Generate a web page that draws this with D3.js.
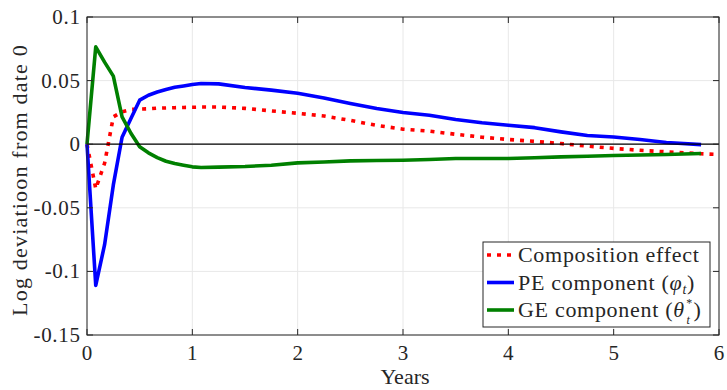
<!DOCTYPE html>
<html>
<head>
<meta charset="utf-8">
<script src="https://cdn.jsdelivr.net/npm/d3@7"></script>
<style>
  html, body { margin: 0; padding: 0; background: #fff; }
  svg { display: block; }
</style>
</head>
<body>
<svg id="chart" width="727" height="390"></svg>
<script>
// Time in years (monthly early on, quarterly afterwards)
const years = [0, 0.083, 0.167, 0.25, 0.333, 0.417, 0.5, 0.583, 0.667, 0.75, 0.833, 0.917,
  1.0, 1.083, 1.25, 1.5, 1.75, 2.0, 2.25, 2.5, 2.75, 3.0, 3.25, 3.5, 3.75, 4.0,
  4.25, 4.5, 4.75, 5.0, 5.25, 5.5, 5.83];
const yearsComposition = years.concat([6.0]);

// Partial-equilibrium component (phi_t)
const peComponent = [0, -0.111, -0.079, -0.032, 0.0055, 0.0202, 0.0346, 0.0385, 0.041, 0.043,
  0.0447, 0.0458, 0.0469, 0.0477, 0.0474, 0.0446, 0.0425, 0.040, 0.0364, 0.032, 0.028,
  0.0249, 0.0228, 0.0194, 0.0168, 0.0149, 0.013, 0.0097, 0.0068, 0.0057, 0.0037, 0.0013, -0.0003];

// General-equilibrium component (theta*_t)
const geComponent = [0, 0.0765, 0.0645, 0.0535, 0.0215, 0.0086, -0.002, -0.0068, -0.0105, -0.0134,
  -0.0152, -0.0165, -0.0178, -0.0183, -0.018, -0.0175, -0.0165, -0.0147, -0.014, -0.0131,
  -0.0128, -0.0126, -0.012, -0.0113, -0.0113, -0.0112, -0.0107, -0.010, -0.0095, -0.0089,
  -0.0085, -0.0081, -0.0073];

// Composition effect
const compositionEffect = [0, -0.035, -0.015, 0.0215, 0.0255, 0.0273, 0.0276, 0.0278, 0.0283,
  0.0285, 0.0287, 0.0289, 0.029, 0.0292, 0.0292, 0.0282, 0.0262, 0.0243, 0.0222, 0.0187,
  0.0148, 0.0118, 0.0103, 0.0078, 0.0055, 0.0037, 0.0022, 0.0005, -0.0015, -0.0033, -0.0048,
  -0.006, -0.0075, -0.0081];

const xTicks = [0, 1, 2, 3, 4, 5, 6];
const yTicks = [-0.15, -0.1, -0.05, 0, 0.05, 0.1];
const yTickLabels = ["-0.15", "-0.1", "-0.05", "0", "0.05", "0.1"];

const FONT = "'Liberation Serif', 'DejaVu Serif', serif";
const INK = "#262626";

const svg = d3.select("#chart");
const plotLeft = 87, plotRight = 719, plotTop = 17, plotBottom = 335;

const x = d3.scaleLinear().domain([0, 6]).range([plotLeft, plotRight]);
const y = d3.scaleLinear().domain([-0.15, 0.1]).range([plotBottom, plotTop]);

// grid
const grid = svg.append("g");
grid.selectAll(".gx").data(xTicks).join("line")
  .attr("x1", d => x(d)).attr("x2", d => x(d))
  .attr("y1", plotTop).attr("y2", plotBottom)
  .attr("stroke", "#e8e8e8").attr("stroke-width", 1);
grid.selectAll(".gy").data(yTicks).join("line")
  .attr("y1", d => y(d)).attr("y2", d => y(d))
  .attr("x1", plotLeft).attr("x2", plotRight)
  .attr("stroke", "#e8e8e8").attr("stroke-width", 1);

// series
const series = [
  { name: "comp", xs: yearsComposition, ys: compositionEffect, color: "#ff0000", dash: "4,6" },
  { name: "pe", xs: years, ys: peComponent, color: "#0000ff", dash: null },
  { name: "ge", xs: years, ys: geComponent, color: "#008000", dash: null }
];
const line = d3.line().x(d => x(d[0])).y(d => y(d[1]));
series.forEach(s => {
  const pts = s.xs.map((t, i) => [t, s.ys[i]]);
  svg.append("path").datum(pts)
    .attr("d", line)
    .attr("fill", "none")
    .attr("stroke", s.color)
    .attr("stroke-width", 3.6)
    .attr("stroke-linejoin", "round")
    .attr("stroke-dasharray", s.dash);
});

// zero reference line
svg.append("line")
  .attr("x1", x(0)).attr("x2", x(6))
  .attr("y1", y(0)).attr("y2", y(0))
  .attr("stroke", "#000").attr("stroke-width", 1.2);

// axes: box with inward ticks on all sides
const tickLen = 6;
const axes = svg.append("g").attr("stroke", INK).attr("stroke-width", 1);
xTicks.forEach(t => {
  axes.append("line").attr("x1", x(t)).attr("x2", x(t)).attr("y1", plotBottom).attr("y2", plotBottom - tickLen);
  axes.append("line").attr("x1", x(t)).attr("x2", x(t)).attr("y1", plotTop).attr("y2", plotTop + tickLen);
});
yTicks.forEach(v => {
  axes.append("line").attr("y1", y(v)).attr("y2", y(v)).attr("x1", plotLeft).attr("x2", plotLeft + tickLen);
  axes.append("line").attr("y1", y(v)).attr("y2", y(v)).attr("x1", plotRight).attr("x2", plotRight - tickLen);
});
axes.append("rect").attr("x", plotLeft).attr("y", plotTop)
  .attr("width", plotRight - plotLeft).attr("height", plotBottom - plotTop).attr("fill", "none");

const txt = sel => sel.attr("font-family", FONT).attr("fill", INK);

// tick labels
svg.selectAll(".xl").data(xTicks).join("text").call(txt)
  .attr("x", d => x(d)).attr("y", 360)
  .attr("text-anchor", "middle").attr("font-size", 21)
  .text(d => d);
svg.selectAll(".yl").data(yTicks).join("text").call(txt)
  .attr("x", 80.7).attr("y", d => y(d) + 7)
  .attr("text-anchor", "end").attr("font-size", 21).attr("letter-spacing", 0.7)
  .text((d, i) => yTickLabels[i]);

// axis titles
svg.append("text").call(txt).attr("x", x(3) + 2).attr("y", 384)
  .attr("text-anchor", "middle").attr("font-size", 22).text("Years");
svg.append("text").call(txt)
  .attr("transform", "translate(27,180) rotate(-90)")
  .attr("text-anchor", "middle").attr("font-size", 22).attr("letter-spacing", 1.2)
  .text("Log deviatioon from date 0");

// legend
const lg = svg.append("g");
lg.append("rect").attr("x", 483).attr("y", 242).attr("width", 227).attr("height", 85)
  .attr("fill", "#fff").attr("stroke", INK).attr("stroke-width", 1);
const rows = [255, 282.5, 310];
series.forEach((s, i) => {
  lg.append("line").attr("x1", 487).attr("x2", 514).attr("y1", rows[i]).attr("y2", rows[i])
    .attr("stroke", s.color).attr("stroke-width", 3.6).attr("stroke-dasharray", s.dash);
});
const fs = 22, ls = 0.7;
lg.append("text").call(txt).attr("x", 518).attr("y", rows[0] + 7).attr("font-size", fs)
  .attr("letter-spacing", ls).text("Composition effect");
const t2 = lg.append("text").call(txt).attr("x", 518).attr("y", rows[1] + 7).attr("font-size", fs).attr("letter-spacing", ls);
t2.append("tspan").text("PE component (");
t2.append("tspan").attr("font-style", "italic").text("φ");
t2.append("tspan").attr("font-style", "italic").attr("font-size", 14).attr("dy", 4).text("t");
t2.append("tspan").attr("dy", -4).text(")");
const t3 = lg.append("text").call(txt).attr("x", 518).attr("y", rows[2] + 7).attr("font-size", fs).attr("letter-spacing", ls);
t3.append("tspan").text("GE component (");
t3.append("tspan").attr("font-style", "italic").text("θ");
t3.append("tspan").attr("font-size", 12).attr("dx", 1.5).attr("dy", -10).text("*");
t3.append("tspan").attr("font-style", "italic").attr("font-size", 12).attr("dx", -6.5).attr("dy", 17).text("t");
t3.append("tspan").attr("dx", 3).attr("dy", -7).text(")");
</script>
</body>
</html>
